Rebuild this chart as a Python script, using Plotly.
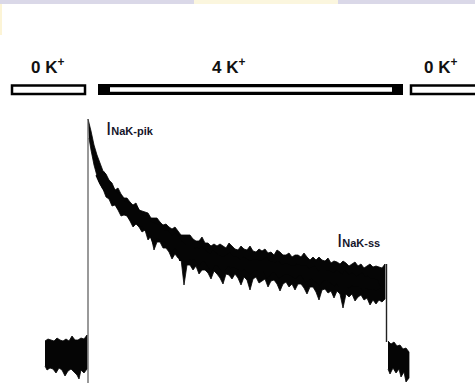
import plotly.graph_objects as go

# ---- data (time in px-scale units, signal in px-scale units, y grows downward) ----
# baseline before K+ application
base1_t_hi = [45, 48, 51, 54, 57, 60, 63, 66, 69, 72, 75, 78, 81, 84, 87]
base1_hi = [341, 339, 340, 341, 338, 340, 341, 339, 341, 336, 340, 340, 338, 339, 335]
base1_t_lo = [45, 47, 50, 53, 56, 59, 62, 65, 68, 71, 74, 77, 79, 81, 84, 87]
base1_lo = [366, 370, 368, 369, 373, 368, 370, 376, 371, 369, 372, 375, 379, 370, 373, 369]

# pump current during 4 K+ (upper edge)
pump_t_hi = [88, 91, 94, 97, 100, 103, 106, 109, 112, 115, 118, 121, 124, 127, 130, 133, 136, 139,
             142, 145, 148, 151, 154, 157, 160, 163, 166, 169, 172, 175, 178, 181, 184, 187, 190,
             193, 196, 199, 202, 205, 208, 211, 214, 217, 220, 223, 226, 229, 232, 235, 238, 241,
             244, 247, 250, 253, 256, 259, 262, 265, 268, 271, 274, 277, 280, 283, 286, 289, 292,
             295, 298, 301, 304, 307, 310, 313, 316, 319, 322, 325, 328, 331, 334, 337, 340, 343,
             346, 349, 352, 355, 358, 361, 364, 367, 370, 373, 376, 379, 382, 385]
pump_hi = [119, 131, 145, 155, 163, 171, 174, 180, 183, 190, 188, 194, 198, 198, 202, 205, 203, 210,
           211, 212, 213, 218, 218, 218, 222, 225, 224, 227, 229, 227, 231, 235, 235, 235, 235,
           239, 241, 241, 237, 243, 243, 246, 244, 246, 244, 246, 248, 243, 246, 249, 250, 246,
           249, 250, 246, 251, 252, 249, 251, 249, 253, 252, 255, 250, 252, 255, 255, 253, 257,
           255, 255, 257, 253, 257, 260, 257, 260, 257, 260, 261, 258, 263, 261, 262, 264, 261,
           263, 266, 264, 262, 266, 264, 268, 266, 264, 267, 266, 267, 268, 264]
# pump current during 4 K+ (lower edge)
pump_t_lo = [89, 91, 94, 97, 100, 103, 106, 109, 112, 115, 118, 121, 124, 127, 130, 133, 136, 139,
             142, 145, 148, 151, 154, 157, 160, 163, 166, 169, 172, 175, 178, 181, 184, 187, 190,
             193, 196, 199, 202, 205, 208, 211, 214, 217, 220, 223, 226, 229, 232, 235, 238, 241,
             244, 247, 250, 253, 256, 259, 262, 265, 268, 271, 274, 277, 280, 283, 286, 289, 292,
             295, 298, 301, 304, 307, 310, 313, 316, 319, 322, 325, 328, 331, 334, 337, 340, 343,
             346, 349, 352, 355, 358, 361, 364, 367, 370, 373, 376, 379, 382, 385]
pump_lo = [138, 150, 165, 176, 184, 189, 197, 199, 206, 205, 210, 216, 215, 216, 221, 227, 224, 227,
           232, 230, 240, 236, 250, 242, 242, 248, 248, 252, 259, 254, 258, 259, 285, 265, 265,
           270, 266, 274, 270, 270, 273, 279, 271, 274, 278, 284, 274, 275, 279, 274, 278, 285,
           277, 280, 290, 279, 277, 283, 281, 279, 287, 281, 280, 284, 291, 284, 282, 287, 284,
           290, 284, 284, 288, 294, 287, 287, 292, 300, 290, 289, 293, 291, 298, 291, 294, 308,
           294, 297, 294, 301, 297, 295, 300, 298, 305, 300, 304, 300, 302, 299]

# baseline after K+ removal
base2_t_hi = [388, 391, 394, 397, 400, 403, 406, 409]
base2_hi = [341, 344, 342, 346, 345, 349, 348, 352]
base2_t_lo = [388, 390, 393, 396, 399, 401, 404, 406, 409]
base2_lo = [369, 374, 368, 373, 369, 377, 372, 382, 378]

# jumps
jump_on_t = [88, 88]
jump_on_y = [119, 385]
jump_off_t = [386.5, 386.5]
jump_off_y = [264, 342]

# solution labels
sol_labels = ["0 K<sup>+</sup>", "4 K<sup>+</sup>", "0 K<sup>+</sup>"]
sol_label_x = [47, 228, 440]

fig = go.Figure()

INK = "#050505"


def band(t_hi, hi, t_lo, lo):
    xs = list(t_hi) + list(reversed(t_lo))
    ys = list(hi) + list(reversed(lo))
    fig.add_trace(go.Scatter(x=xs, y=ys, mode="lines", fill="toself",
                             fillcolor=INK, line=dict(color=INK, width=0.8, simplify=False),
                             hoverinfo="skip", showlegend=False))


band(base1_t_hi, base1_hi, base1_t_lo, base1_lo)
band(pump_t_hi, pump_hi, pump_t_lo, pump_lo)
band(base2_t_hi, base2_hi, base2_t_lo, base2_lo)

# solid core of the decaying band (midway between the two envelopes), kept inside the band
core_t = [(a + b) / 2 for a, b in zip(pump_t_hi, pump_t_lo)][4:-2]
core_y = [(a + b) / 2 for a, b in zip(pump_hi, pump_lo)][4:-2]
fig.add_trace(go.Scatter(x=core_t, y=core_y, mode="lines",
                         line=dict(color=INK, width=10, simplify=False),
                         hoverinfo="skip", showlegend=False))

fig.add_trace(go.Scatter(x=jump_on_t, y=jump_on_y, mode="lines",
                         line=dict(color="#555555", width=1.2), showlegend=False, hoverinfo="skip"))
fig.add_trace(go.Scatter(x=jump_off_t, y=jump_off_y, mode="lines",
                         line=dict(color="#222222", width=1.4), showlegend=False, hoverinfo="skip"))

shapes = [
    # watermark remnants
    dict(type="rect", xref="paper", yref="paper", x0=0, x1=1, y0=1 - 4 / 383, y1=1,
         fillcolor="#dad8e8", line=dict(width=0), layer="below"),
    dict(type="rect", xref="paper", yref="paper", x0=194 / 475, x1=338 / 475, y0=1 - 4 / 383, y1=1,
         fillcolor="#fbf6de", line=dict(width=0), layer="below"),
    dict(type="rect", xref="paper", yref="paper", x0=0, x1=2 / 475, y0=1 - 35 / 383, y1=1 - 4 / 383,
         fillcolor="#fcf4d6", line=dict(width=0), layer="below"),
    # solution bars
    dict(type="rect", x0=12, x1=85, y0=85.5, y1=94, fillcolor="white",
         line=dict(color="black", width=2.5)),
    dict(type="rect", x0=98, x1=403, y0=84, y1=95, fillcolor="black",
         line=dict(color="black", width=0)),
    dict(type="rect", x0=110, x1=392, y0=87.3, y1=91.8, fillcolor="white",
         line=dict(color="white", width=0)),
    dict(type="rect", x0=411, x1=480, y0=85.5, y1=94, fillcolor="white",
         line=dict(color="black", width=2.5)),
]

annotations = []
for lab, x in zip(sol_labels, sol_label_x):
    annotations.append(dict(x=x, y=66, text="<b>" + lab + "</b>", showarrow=False,
                            xanchor="center", yanchor="middle",
                            font=dict(family="Liberation Sans, Arial", size=17, color="#111111")))
annotations.append(dict(x=104, y=128, text="I<b><span style='font-size:11px'>NaK-pik</span></b>",
                        showarrow=False, xanchor="left", yanchor="middle",
                        font=dict(family="Liberation Sans, Arial", size=19, color="#15152a")))
annotations.append(dict(x=335, y=240, text="I<b><span style='font-size:11px'>NaK-ss</span></b>",
                        showarrow=False, xanchor="left", yanchor="middle",
                        font=dict(family="Liberation Sans, Arial", size=19, color="#15152a")))

fig.update_layout(
    width=475, height=383,
    margin=dict(l=0, r=0, t=0, b=0),
    paper_bgcolor="white", plot_bgcolor="white",
    xaxis=dict(range=[0, 475], visible=False, fixedrange=True),
    yaxis=dict(range=[383, 0], visible=False, fixedrange=True),
    shapes=shapes, annotations=annotations, showlegend=False,
)

fig.write_html("out.html", config={"displayModeBar": False},
               post_script="document.body.style.margin='0';document.body.style.padding='0';")
